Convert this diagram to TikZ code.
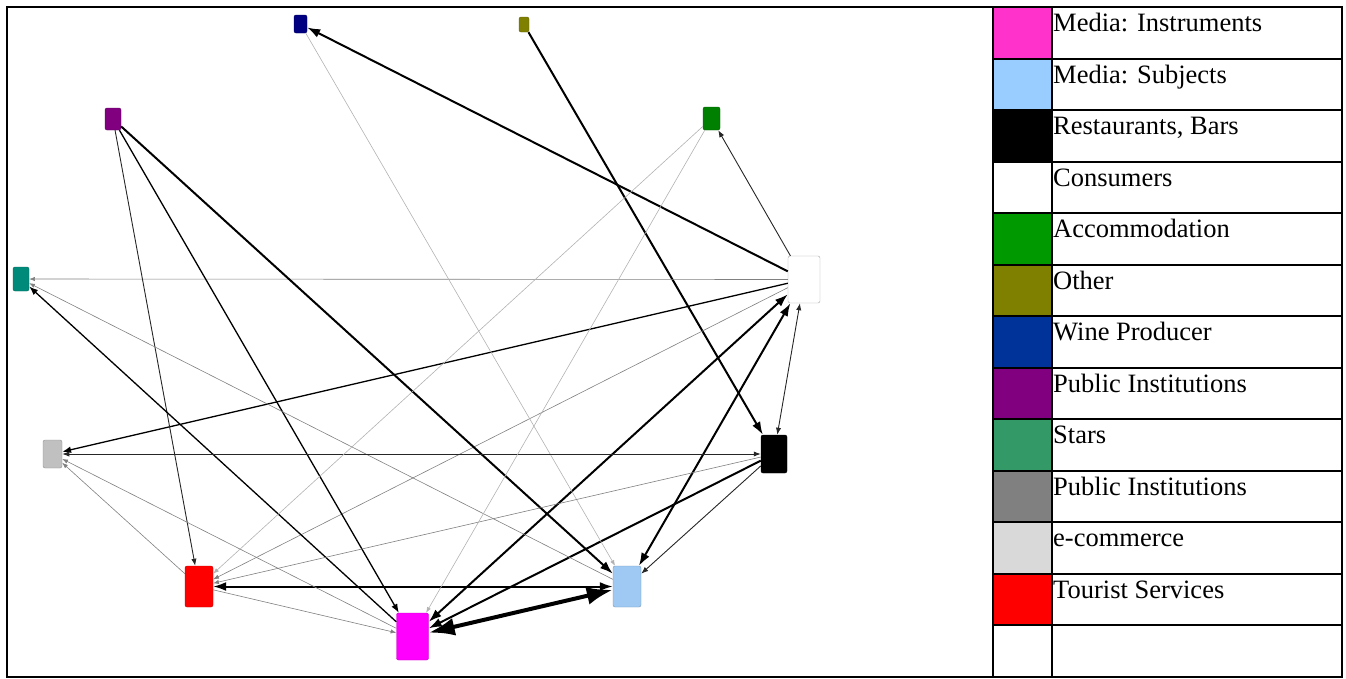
\documentclass[tikz,border=0pt]{standalone}
\usepackage{fontspec}
\setmainfont{Liberation Serif}
\usetikzlibrary{arrows.meta}
\definecolor{instr}{HTML}{FF33CC}
\definecolor{subj}{HTML}{99CCFF}
\definecolor{accom}{HTML}{009900}
\definecolor{other}{HTML}{808000}
\definecolor{wine}{HTML}{003399}
\definecolor{publ}{HTML}{800080}
\definecolor{stars}{HTML}{339966}
\definecolor{publg}{HTML}{808080}
\definecolor{ecom}{HTML}{D9D9D9}
\definecolor{nmag}{HTML}{FF00FF}
\definecolor{nsubj}{HTML}{9FC9F2}
\definecolor{nteal}{HTML}{008A7A}
\definecolor{ngrey}{HTML}{C0C0C0}

\begin{document}
\begin{tikzpicture}[x=1pt, y=-1pt, >={Latex},
    box/.style={rectangle, rounded corners=2pt, draw=#1!75!black, fill=#1, inner sep=0pt},
    e0/.style={line width=0.6pt, gray},
    e1/.style={line width=0.9pt, black!85},
    e2/.style={line width=1.3pt},
    e3/.style={line width=2pt, >={Latex[length=13pt,width=9pt]}},
    e4/.style={line width=4pt, >={Latex[length=26pt,width=18pt]}},
    swatch/.style={draw, line width=2pt, minimum width=59pt, minimum height=51.54pt, inner sep=0pt},
    cell/.style={draw, line width=2pt, minimum width=290pt, minimum height=51.54pt, inner sep=0pt},
    lbl/.style={anchor=base west, inner sep=0pt, font=\fontsize{26.5}{30}\selectfont}]
    \useasboundingbox (0,0) rectangle (1346,678);
    \draw[line width=2pt] (7,7) rectangle (993,677);

    % network
    \node[box=nmag, minimum width=32pt, minimum height=47pt] (mi) at (412.5,636.5) {};
    \node[box=nsubj, minimum width=28pt, minimum height=41pt] (ms) at (627,586.5) {};
    \node[box=black, minimum width=26pt, minimum height=38pt] (rb) at (774,454) {};
    \node[box=white, draw=gray!70, minimum width=32pt, minimum height=47pt] (co) at (804,279.5) {};
    \node[box=green!50!black, minimum width=17pt, minimum height=23pt] (ac) at (711.5,118.5) {};
    \node[box=other, minimum width=10pt, minimum height=15pt] (ot) at (524,24.5) {};
    \node[box=blue!50!black, minimum width=13pt, minimum height=18pt] (wp) at (300.5,24) {};
    \node[box=publ, minimum width=16pt, minimum height=22pt] (pi) at (113,119) {};
    \node[box=nteal, minimum width=16pt, minimum height=24pt] (st) at (21,279) {};
    \node[box=ngrey, minimum width=19pt, minimum height=28pt] (ec) at (52.5,454) {};
    \node[box=red, minimum width=28pt, minimum height=41pt] (ts) at (199,586.5) {};

    \draw[e3,->] (co) -- (wp);
    \draw[e3,->] (ot) -- (rb);
    \draw[e1,->] (co) -- (ac);
    \draw[e0,->] (co) -- (st);
    \draw[e2,->] (co) -- (ec);
    \draw[e1,<->] (co) -- (rb);
    \draw[e0,->] (co) -- (ts);
    \draw[e3,<->] (mi) -- (co);
    \draw[e3,->] (rb) -- (mi);
    \draw[e3,<->] (ms) -- (co);
    \draw[e1,->] (rb) -- (ms);
    \draw[e4,<->] (mi) -- (ms);
    \draw[e3,<->] (ts) -- (ms);
    \draw[e0,->] (ts) -- (mi);
    \draw[e1,->] (pi) -- (ts);
    \draw[e2,->] (pi) -- (mi);
    \draw[e3,->] (pi) -- (ms);
    \draw[e0,gray!60,->] (wp) -- (ms);
    \draw[e2,->] (mi) -- (st);
    \draw[e0,->] (ms) -- (st);
    \draw[e1,<->] (rb) -- (ec);
    \draw[e0,->] (ts) -- (ec);
    \draw[e0,->] (mi) -- (ec);
    \draw[e0,->] (rb) -- (ts);
    \draw[e0,gray!60,->] (ac) -- (ts);
    \draw[e0,gray!60,->] (ac) -- (mi);

    % legend
    \foreach \col/\txt [count=\i from 0] in {instr/Media: Instruments, subj/Media: Subjects,
        black/{Restaurants, Bars}, white/Consumers, accom/Accommodation, other/Other,
        wine/Wine Producer, publ/Public Institutions, stars/Stars, publg/Public Institutions,
        ecom/e-commerce, red/Tourist Services, white/{}} {
        \node[swatch, fill=\col] (k\i) at (1022.5, {32.77+51.54*\i}) {};
        \node[cell] (c\i) at (1197, {32.77+51.54*\i}) {};
        \node[lbl] (t\i) at (1053, {31.5+51.54*\i}) {\txt};
    }
\end{tikzpicture}
\end{document}
